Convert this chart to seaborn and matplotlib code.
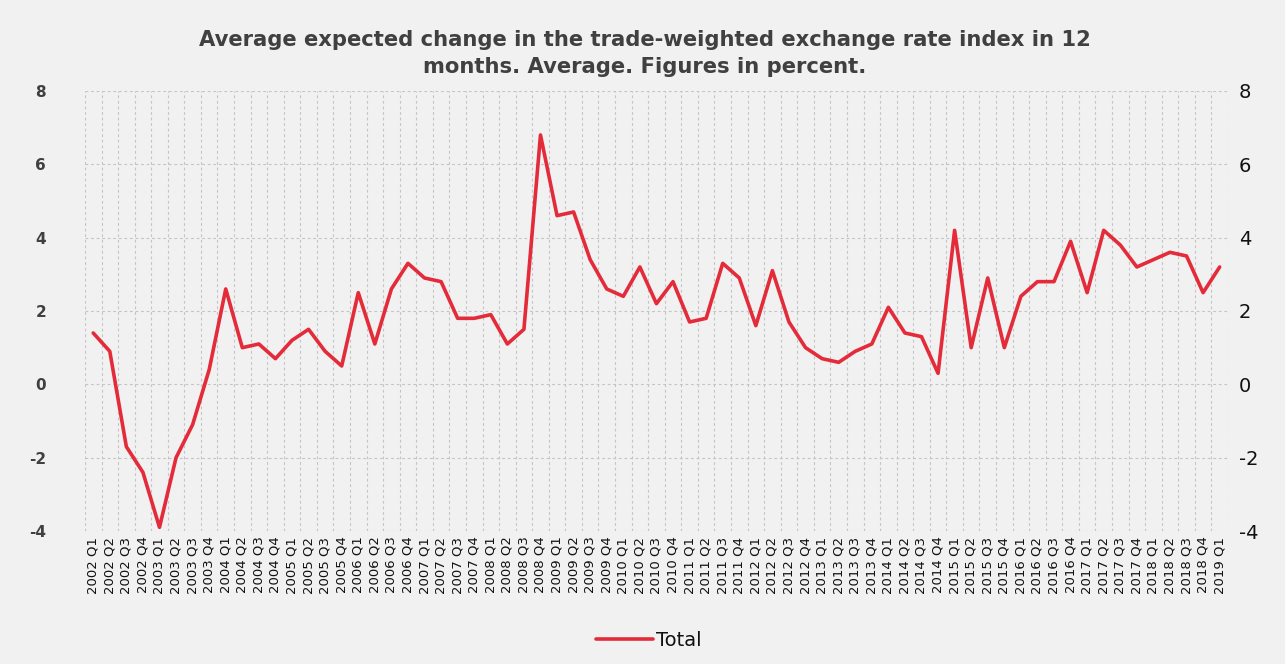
import numpy as np
import pandas as pd
import matplotlib
matplotlib.use("Agg")
import matplotlib.pyplot as plt
import seaborn as sns

# quarters 2002 Q1 .. 2019 Q1
years = list(range(2002, 2020))
quarters = [f"{y} Q{q}" for y in years for q in range(1, 5)][:69]

total = [1.4, 0.9, -1.7, -2.4,
         -3.9, -2.0, -1.1, 0.4,
         2.6, 1.0, 1.1, 0.7,
         1.2, 1.5, 0.9, 0.5,
         2.5, 1.1, 2.6, 3.3,
         2.9, 2.8, 1.8, 1.8,
         1.9, 1.1, 1.5, 6.8,
         4.6, 4.7, 3.4, 2.6,
         2.4, 3.2, 2.2, 2.8,
         1.7, 1.8, 3.3, 2.9,
         1.6, 3.1, 1.7, 1.0,
         0.7, 0.6, 0.9, 1.1,
         2.1, 1.4, 1.3, 0.3,
         4.2, 1.0, 2.9, 1.0,
         2.4, 2.8, 2.8, 3.9,
         2.5, 4.2, 3.8, 3.2,
         3.4, 3.6, 3.5, 2.5,
         3.2]

yticks = [-4, -2, 0, 2, 4, 6, 8]

df = pd.DataFrame({"quarter": quarters, "value": total})

sns.set_style("white")
plt.rcParams["axes.unicode_minus"] = False
bg = "#f1f1f1"
fig = plt.figure(figsize=(12.85, 6.64), dpi=100, facecolor=bg)
ax = fig.add_axes([0.0661, 0.2003, 0.8895, 0.6627])
ax.set_facecolor(bg)

sns.lineplot(data=df, x="quarter", y="value", ax=ax, color="#e32b3a",
             linewidth=2.6, label="Total", sort=False)

ax.set_xlim(-0.5, len(quarters) - 0.5)
ax.set_ylim(-4, 8)
ax.set_yticks(yticks)
ax.set_xticks(range(len(quarters)))
ax.set_xticklabels(quarters, rotation=90, fontsize=9.5, color="#111111")
ax.set_xticks(np.arange(-0.5, len(quarters)), minor=True)
ax.tick_params(axis="x", which="both", length=0, pad=4)
ax.tick_params(axis="y", length=0, pad=28)
for t in ax.get_yticklabels():
    t.set_fontweight("bold")
    t.set_color("#404040")
    t.set_fontsize(11)
ax.grid(False)
ax.grid(which="minor", axis="x", color="#c4c4c4", linestyle=(0, (2.5, 2.5)), linewidth=0.8)
ax.grid(which="major", axis="y", color="#c4c4c4", linestyle=(0, (2.5, 2.5)), linewidth=0.8)
for s in ax.spines.values():
    s.set_visible(False)
ax.set_xlabel("")
ax.set_ylabel("")

ax2 = ax.twinx()
ax2.set_ylim(-4, 8)
ax2.set_yticks(yticks)
ax2.tick_params(axis="y", length=0, pad=8, labelsize=14, labelcolor="#111111")
for s in ax2.spines.values():
    s.set_visible(False)
ax2.grid(False)

ax.get_legend().remove()
leg = fig.legend(*ax.get_legend_handles_labels(), loc="center",
                 bbox_to_anchor=(0.505, 0.035), frameon=False,
                 fontsize=14, handlelength=2.9, handletextpad=0.15)
for t in leg.get_texts():
    t.set_color("#111111")

fig.text(0.502, 0.92, "Average expected change in the trade-weighted exchange rate index in 12\nmonths. Average. Figures in percent.",
         ha="center", va="center", fontsize=15.2, fontweight="bold", color="#404040",
         linespacing=1.45)

fig.savefig("out.png", dpi=100, facecolor=bg)
